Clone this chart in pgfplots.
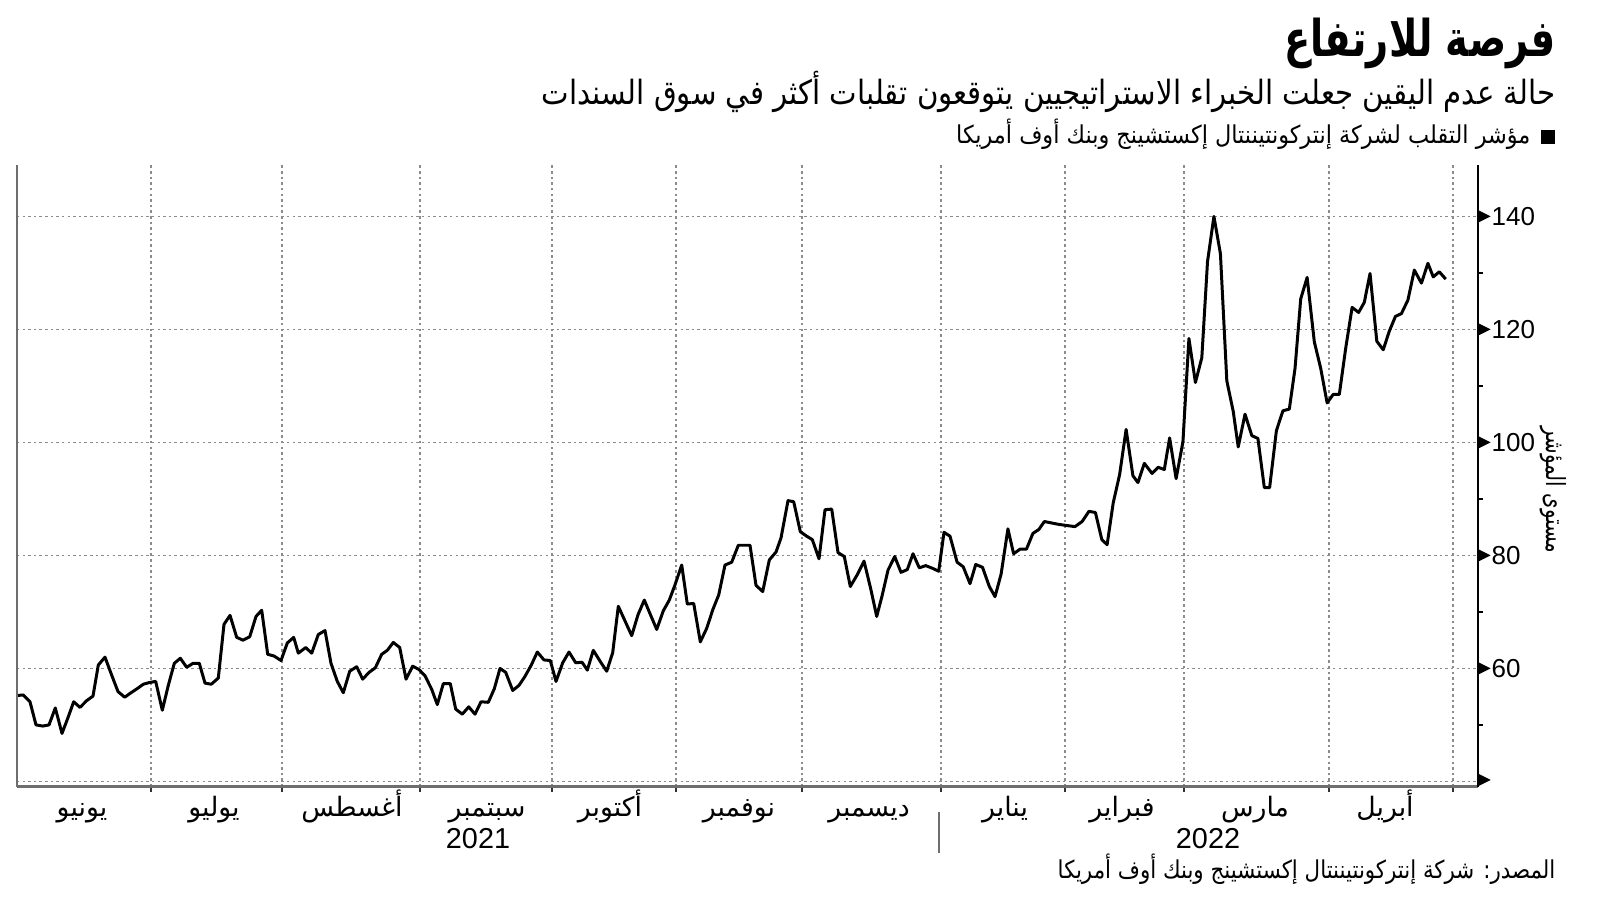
\documentclass[border=0pt]{standalone}
\usepackage{fontspec}
\setmainfont{Liberation Sans}
\newfontfamily\arabicfont[Script=Arabic]{DejaVu Sans}
\usepackage{pgfplots}
\pgfplotsset{compat=1.18}
\TeXXeTstate=1
\definecolor{gridc}{HTML}{8C8C8C}
\definecolor{axisc}{HTML}{6E6E6E}
\newcommand{\tri}{\tikz[baseline=-0.09cm]\fill[black] (0cm,-0.06cm)--(0cm,0.06cm)--(0.12cm,0cm)--cycle;}

\begin{document}
\begin{tikzpicture}
\path[use as bounding box] (0,0) rectangle (16,-9.01);
\begin{axis}[
  at={(0.17cm,-7.865cm)}, anchor=south west,
  width=14.61cm, height=6.215cm, scale only axis,
  xmin=17, xmax=1478, ymin=39.1, ymax=149.1,
  axis x line*=bottom, axis y line*=right,
  x axis line style={axisc, line width=0.9pt},
  y axis line style={black, line width=0.5pt},
  tick align=outside,
  major tick length=0pt, minor tick length=0.05cm,
  x tick style={black!80, line width=0.5pt},
  y tick style={black, line width=0.5pt},
  xtick={82,214,352,487,610,739,869,1005,1122,1255,1385},
  xticklabels={{\beginR يونيو\endR},{\beginR يوليو\endR},{\beginR أغسطس\endR},{\beginR سبتمبر\endR},{\beginR أكتوبر\endR},{\beginR نوفمبر\endR},{\beginR ديسمبر\endR},{\beginR يناير\endR},{\beginR فبراير\endR},{\beginR مارس\endR},{\beginR أبريل\endR}},
  minor xtick={151,282,420,552,676,802,941,1065,1184,1329,1453},
  xminorgrids=true, ymajorgrids=true,
  ytick={60,80,100,120,140},
  minor ytick={50,70,90,110,130},
  extra y ticks={40}, extra y tick labels={\tri},
  /pgf/number format/assume math mode=true,
  yticklabel={\tri\hspace{0.01cm}\pgfmathprintnumber{\tick}},
  yticklabel style={anchor=west, inner sep=0pt, font=\fontsize{7.4}{8}\selectfont},
  xticklabel style={font=\arabicfont\fontsize{7.6}{9}\selectfont, anchor=north, inner sep=0pt, text height=0.29cm, text depth=0.08cm},
  major grid style={gridc, line width=0.35pt, dash pattern=on 0.7pt off 0.9pt},
  minor grid style={gridc, line width=0.35pt, dash pattern=on 0.7pt off 0.9pt},
  after end axis/.code={\draw[axisc, line width=0.6pt] (rel axis cs:0,0) -- (rel axis cs:0,1);},
]
\addplot[black, line width=0.85pt, line join=round] coordinates {
(16.7,55.2) (23.3,55.3) (30,54.1) (36,50.0) (42.7,49.8) (49,50.0) (55.3,53.0) (62,48.5) (68,51.3) (73.7,54.1)
(80,53.1) (86.7,54.3) (93,55.1) (98.3,60.6) (105,62.0) (111.7,58.8) (118,55.9) (124.7,54.9) (131,55.7) (137,56.4)
(143.3,57.2) (149.3,57.5) (155.7,57.7) (162.3,52.6) (168.3,57.0) (174.3,60.9) (180.3,61.8) (186.7,60.2) (193,60.9) (199.3,60.9)
(205,57.4) (211.3,57.2) (218.3,58.3) (224,67.8) (230,69.4) (236.7,65.5) (243,65.0) (249.7,65.6) (256,69.2) (261.7,70.3)
(267.7,62.5) (274,62.2) (281,61.4) (287.3,64.5) (293.7,65.5) (298.3,62.7) (305.7,63.7) (311.7,62.7) (318.3,66.0) (325,66.7)
(331,60.9) (337.3,57.7) (343.3,55.7) (349.7,59.5) (356.7,60.3) (362.7,58.1) (369,59.3) (375.3,60.1) (381.7,62.5) (387.3,63.2)
(393.3,64.6) (399.7,63.7) (406,58.1) (412.7,60.4) (419,59.8) (425,58.7) (431.7,56.3) (437.3,53.6) (443.3,57.3) (450.3,57.3)
(455.7,52.8) (462.3,51.9) (468.7,53.2) (475,51.9) (481,54.1) (488.3,54.0) (494.3,56.4) (500,60.0)
(505.7,59.3) (512.7,56.1) (519,57.0) (525,58.6) (531.3,60.6) (537.3,62.9) (544,61.5) (550.3,61.4) (556,57.7) (562.7,61.0)
(569,62.9) (575.7,61.0) (582,61.1) (587.3,59.7) (593.3,63.2) (600,61.3) (606.7,59.5) (612.7,62.8) (618.3,71.0) (625,68.4)
(631.7,65.8) (638,69.5) (644.3,72.1) (650.7,69.4) (656.7,66.9) (663.3,70.2) (669.3,72.1) (675,74.8) (681.7,78.3) (687.3,71.4)
(693.7,71.5) (700.3,64.7) (706.7,67.1) (713,70.5) (718.7,73.0) (725,78.3) (731.7,78.8) (738.3,81.8) (744,81.8) (750,81.8)
(756,74.7) (762.7,73.6) (769.3,79.2) (776,80.6) (781,83.1) (788,89.7) (793.7,89.5) (800.3,84.2) (806.7,83.4) (812.3,82.8)
(819,79.4) (825,88.1) (831.7,88.2) (838,80.5) (844.3,79.8) (850.3,74.5) (857.3,76.6) (864,79.0) (870.7,74.1) (876.7,69.2)
(882,72.8) (888,77.4) (894.7,79.8) (901,77.0) (907.3,77.5) (913,80.3) (919.3,77.8) (925.7,78.2) (932.7,77.7) (938.7,77.2)
(944,84.1) (950,83.4) (957.1,78.8) (963.2,78.0) (970,75.0) (975.7,78.4) (982.5,77.9) (989.3,74.5) (995,72.7) (1001.1,76.7)
(1007.9,84.7) (1013.6,80.3) (1020,81.1) (1026.4,81.1) (1032.9,83.9) (1038.9,84.6) (1044.3,86.0) (1058.6,85.5) (1066.4,85.3) (1075,85.1)
(1082.1,86.0) (1088.9,87.8) (1095.4,87.6) (1101.8,82.8) (1107.1,81.9) (1113.2,89.3) (1119.6,94.3) (1126.1,102.3) (1132.9,94.1) (1137.9,92.9)
(1144.3,96.3) (1152.1,94.5) (1158.2,95.6) (1164.3,95.2) (1169.6,100.8) (1176.1,93.6) (1182.9,100.1) (1188.9,118.4) (1195.4,110.6) (1201.8,115.0)
(1207.5,132.0) (1213.9,140.0) (1220.4,133.4) (1226.8,110.9) (1233.2,105.5) (1238.2,99.2) (1245,105.0) (1251.8,101.2) (1257.9,100.7) (1264.3,92.0)
(1269.6,92.0) (1276.4,102.1) (1282.9,105.6) (1289.3,105.9) (1295,113.1) (1300.7,125.4) (1307.1,129.2) (1314.3,117.8) (1320.7,113.1) (1327.1,107.0)
(1333.2,108.5) (1339.3,108.5) (1345.7,116.7) (1352.1,123.9) (1358.6,123.0) (1364.3,124.8) (1370,129.9) (1376.8,117.9) (1383.2,116.4) (1389.3,119.7)
(1395.4,122.3) (1401.4,122.8) (1407.9,125.2) (1414.3,130.5) (1421.4,128.2) (1427.9,131.7) (1433.2,129.3) (1439.3,130.2) (1445.7,128.9)
};
\end{axis}
\node[anchor=base east, inner sep=0pt] at (15.56,-0.57) {\scalebox{0.78}[1.03]{\arabicfont\bfseries\fontsize{14}{16}\selectfont\beginR فرصة للارتفاع\endR}};
\node[anchor=base east, inner sep=0pt] at (15.56,-1.05) {\scalebox{0.876}[1]{\arabicfont\fontsize{9.5}{11}\selectfont\beginR حالة عدم اليقين جعلت الخبراء الاستراتيجيين يتوقعون تقلبات أكثر في سوق السندات\endR}};
\fill (15.41,-1.30) rectangle (15.55,-1.44);
\node[anchor=base east, inner sep=0pt] at (15.31,-1.44) {\scalebox{0.91}[1]{\arabicfont\fontsize{7}{8}\selectfont\beginR مؤشر التقلب لشركة إنتركونتيننتال إكستشينج وبنك أوف أمريكا\endR}};
\node[rotate=-90, inner sep=0pt] at (15.53,-4.9) {\scalebox{0.75}[1]{\arabicfont\fontsize{7.5}{9}\selectfont\beginR مستوى المؤشر\endR}};
\node[inner sep=0pt] at (4.78,-8.39) {\fontsize{8.2}{9}\selectfont 2021};
\node[inner sep=0pt] at (12.08,-8.39) {\fontsize{8.2}{9}\selectfont 2022};
\draw[axisc, line width=0.4pt] (9.39,-8.12) -- (9.39,-8.53);
\node[anchor=base east, inner sep=0pt] at (15.56,-8.78) {\scalebox{0.868}[1]{\arabicfont\fontsize{7}{8}\selectfont\beginR المصدر: شركة إنتركونتيننتال إكستشينج وبنك أوف أمريكا\endR}};
\end{tikzpicture}
\end{document}
